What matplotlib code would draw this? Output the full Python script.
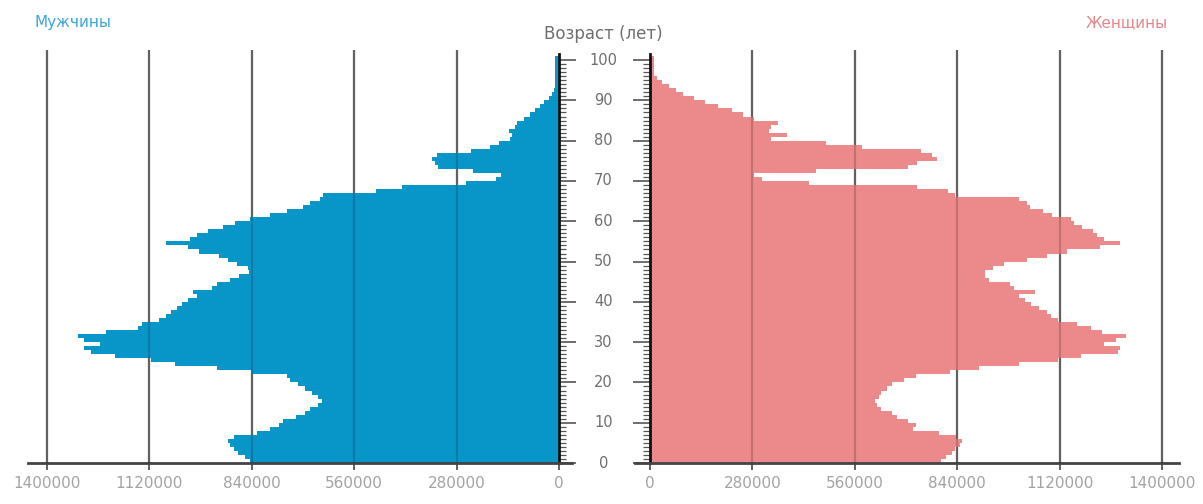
import matplotlib.pyplot as plt
from matplotlib.transforms import blended_transform_factory

# Population by single year of age, 0..100
ages = list(range(101))

men_k = [845, 860, 878, 890, 900, 905, 890, 825, 790, 765,
         755, 720, 695, 680, 660, 648, 660, 675, 695, 715,
         735, 745, 840, 935, 1050, 1115, 1215, 1280, 1300, 1255,
         1300, 1315, 1240, 1150, 1140, 1095, 1075, 1060, 1045, 1030,
         1015, 990, 1000, 950, 935, 900, 875, 848, 850, 880,
         905, 930, 985, 1015, 1075, 1010, 990, 960, 920, 885,
         845, 790, 745, 700, 680, 655, 645, 500, 430, 255,
         172, 158, 235, 330, 340, 347, 335, 240, 190, 165,
         135, 128, 138, 120, 115, 95, 80, 65, 52, 40,
         28, 20, 15, 12, 12, 12, 12, 12, 12, 12, 12]

women_k = [795, 810, 825, 835, 847, 853, 837, 790, 720, 726,
           705, 674, 663, 632, 621, 616, 626, 632, 647, 663,
           695, 726, 821, 900, 1010, 1116, 1179, 1279, 1284, 1242,
           1274, 1300, 1237, 1205, 1168, 1116, 1095, 1084, 1063, 1042,
           1026, 1010, 1052, 995, 984, 926, 916, 916, 937, 968,
           1030, 1085, 1140, 1230, 1285, 1240, 1221, 1210, 1180, 1160,
           1150, 1100, 1075, 1040, 1030, 1010, 835, 815, 730, 435,
           305, 285, 455, 705, 730, 785, 770, 740, 580, 480,
           330, 375, 325, 330, 350, 285, 255, 225, 185, 150,
           120, 90, 72, 52, 32, 18, 12, 12, 12, 12, 12]

men = [v * 1000 for v in men_k]
women = [v * 1000 for v in women_k]

xticks = [0, 280000, 560000, 840000, 1120000, 1400000]
age_labels = [0, 10, 20, 30, 40, 50, 60, 70, 80, 90, 100]

blue = "#0896c9"
pink = "#ec8a8b"
tick_gray = "#a3a3a3"
label_gray = "#6e6e6e"

fig = plt.figure(figsize=(12.03, 5.04), dpi=100)
ax_l = fig.add_axes([0.0233, 0.0813, 0.4522, 0.8194])
ax_r = fig.add_axes([0.5278, 0.0813, 0.4522, 0.8194])

ymax = 102.5

for ax, vals, col in ((ax_l, men, blue), (ax_r, women, pink)):
    # grid lines: one under the bars, one faint on top
    ax.vlines(xticks[1:], 0, ymax, color="#777777", lw=1.6, zorder=1)
    ax.barh(ages, vals, height=1.0, align="edge", color=col, lw=0, zorder=2)
    ax.vlines(xticks[1:], 0, ymax, color="black", lw=1.6, alpha=0.18, zorder=3)
    ax.set_ylim(0, ymax)
    ax.set_xticks(xticks)
    ax.set_xticklabels([str(t) for t in xticks])
    ax.tick_params(axis="x", direction="out", length=5, width=1.2,
                   color="#444444", labelcolor=tick_gray, labelsize=11, pad=4)
    ax.set_yticks(age_labels)
    ax.set_yticks(ages, minor=True)
    ax.tick_params(axis="y", which="major", direction="out", length=12,
                   width=1.2, color="#555555", labelleft=False, labelright=False)
    ax.tick_params(axis="y", which="minor", direction="out", length=5,
                   width=0.9, color="#555555")
    ax.spines["bottom"].set_color("#444444")
    ax.spines["bottom"].set_linewidth(2)
    ax.spines["top"].set_visible(False)
    for s in ("left", "right"):
        ax.spines[s].set_color("#111111")
        ax.spines[s].set_linewidth(2)
        ax.spines[s].set_bounds(0, 101.5)

ax_l.set_xlim(1452000, -35500)
ax_l.spines["left"].set_visible(False)
ax_l.spines["right"].set_position(("data", 0))
ax_l.yaxis.tick_right()

ax_r.set_xlim(-41000, 1446000)
ax_r.spines["right"].set_visible(False)
ax_r.spines["left"].set_position(("data", 0))
ax_r.yaxis.tick_left()

# age labels in the gap between the halves
tr = blended_transform_factory(fig.transFigure, ax_r.transData)
for a in age_labels:
    ax_r.text(0.5015, a, str(a), transform=tr, ha="center", va="center",
              fontsize=10.5, color=label_gray, clip_on=False)

fig.text(0.5015, 0.932, "Возраст (лет)", ha="center", va="center",
         fontsize=12, color=label_gray)
fig.text(0.029, 0.956, "Мужчины", ha="left", va="center",
         fontsize=11, color="#3ca6d8")
fig.text(0.971, 0.956, "Женщины", ha="right", va="center",
         fontsize=11, color="#e8868a")

fig.savefig("out.png", dpi=100)
